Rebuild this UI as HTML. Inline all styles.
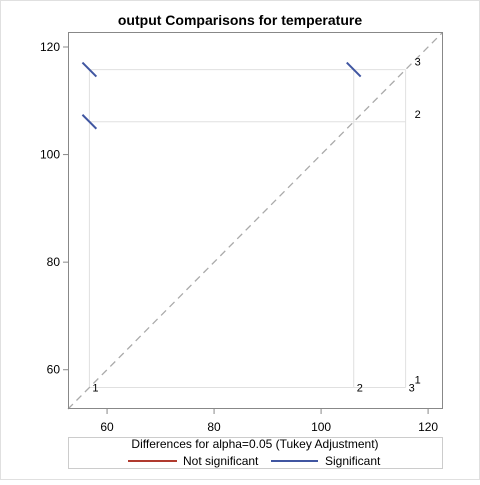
<!DOCTYPE html>
<html><head><meta charset="utf-8"><style>
body{margin:0;background:#fff;}
svg{font-family:"Liberation Sans",sans-serif;}
</style></head><body>
<svg width="480" height="480" viewBox="0 0 480 480">
<rect x="0.5" y="0.5" width="479" height="479" fill="#fff" stroke="#e0e0e0"/>
<text x="240" y="25" text-anchor="middle" font-size="14" font-weight="bold" fill="#000">output Comparisons for temperature</text>
<g id="plot"></g>
<rect x="68.5" y="32.5" width="374" height="376" fill="none" stroke="#888"/>
<rect x="68.5" y="437.5" width="374" height="31" fill="none" stroke="#ccc"/>
<text x="255" y="448" text-anchor="middle" font-size="12" fill="#000">Differences for alpha=0.05 (Tukey Adjustment)</text>
<line x1="128" y1="461" x2="177" y2="461" stroke="#b03a2e" stroke-width="2"/>
<text x="183" y="465" font-size="12" fill="#000">Not significant</text>
<line x1="271" y1="461" x2="318" y2="461" stroke="#4056a1" stroke-width="2"/>
<text x="325" y="465" font-size="12" fill="#000">Significant</text>
</svg>
<script>
const levels = ["1","2","3"];
const means = [56.7, 106.1, 115.8];
const pairI = [0, 0, 1];
const pairJ = [2, 1, 2];
const halfWidth = [1.3, 1.3, 1.3];
const significant = [true, true, true];
const ticks = [60, 80, 100, 120];
const tickLabels = ["60", "80", "100", "120"];

const NS = "http://www.w3.org/2000/svg";
const g = document.getElementById("plot");
const vmin = 52.7, vmax = 122.6;
const X = v => 68 + (v - vmin) / (vmax - vmin) * 374;
const Y = v => 409 - (v - vmin) / (vmax - vmin) * 376;
function mk(tag, attrs, parent) {
  const e = document.createElementNS(NS, tag);
  for (const k in attrs) e.setAttribute(k, attrs[k]);
  (parent || g).appendChild(e);
  return e;
}
const lo = Math.min(...means), hi = Math.max(...means);
means.forEach((m, i) => {
  const v = mk("line", {x1: X(m), y1: Y(lo), x2: X(m), y2: Y(hi), stroke: "#e0e0e0"});
  
  
  const h = mk("line", {x1: X(lo), y1: Y(m), x2: X(hi), y2: Y(m), stroke: "#e0e0e0"});
  
  
});
const d = mk("line", {x1: X(vmin), y1: Y(vmin), x2: X(vmax), y2: Y(vmax), stroke: "#aaa", "stroke-width": 1.3, "stroke-dasharray": "7,5"});


means.forEach((m, i) => {
  const t = mk("text", {x: X(m) + 3, y: Y(lo) + 4, "font-size": 11, fill: "#000"});
  t.textContent = levels[i];
  
  
  const r = mk("text", {x: X(hi) + 9, y: Y(m) - 4, "font-size": 11, fill: "#000"});
  r.textContent = levels[i];
  
  
});
pairI.forEach((a, k) => {
  const cx = means[a], cy = means[pairJ[k]], w = halfWidth[k];
  const s = mk("line", {x1: X(cx - w), y1: Y(cy + w), x2: X(cx + w), y2: Y(cy - w), stroke: significant[k] ? "#4056a1" : "#b03a2e", "stroke-width": 2});
  
  
});
ticks.forEach((t, i) => {
  const a = mk("line", {x1: X(t), y1: 409, x2: X(t), y2: 414, stroke: "#888"});
  
  
  const l = mk("text", {x: X(t), y: 431, "text-anchor": "middle", "font-size": 12, fill: "#000"});
  l.textContent = tickLabels[i];
  
  
  const b = mk("line", {x1: 63, y1: Y(t), x2: 68, y2: Y(t), stroke: "#888"});
  
  
  const m = mk("text", {x: 60, y: Y(t) + 4, "text-anchor": "end", "font-size": 12, fill: "#000"});
  m.textContent = tickLabels[i];
  
  
});
</script>
</body></html>
